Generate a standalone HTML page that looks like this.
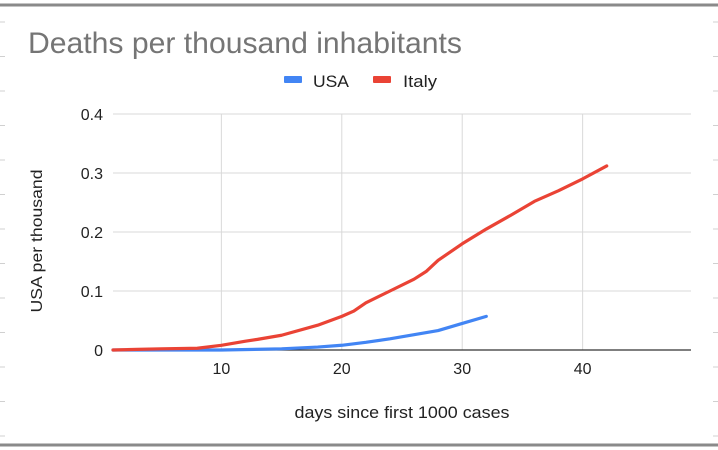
<!DOCTYPE html>
<html><head><meta charset="utf-8"><style>
html,body{margin:0;padding:0;background:#fff;}
svg{display:block;font-family:"Liberation Sans",Arial,sans-serif;}
</style></head><body>
<svg id="chart" width="718" height="450" viewBox="0 0 718 450">
<rect x="0" y="0" width="718" height="450" fill="#fff"/>
<line x1="0" y1="5" x2="718" y2="5" stroke="#8a8a8a" stroke-width="3"/>
<line x1="0" y1="445" x2="718" y2="445" stroke="#8a8a8a" stroke-width="3"/>
<g id="edges" stroke="#d0d0d0" stroke-width="1"></g>
<text x="28" y="53" font-size="30" fill="#757575" textLength="434" lengthAdjust="spacingAndGlyphs">Deaths per thousand inhabitants</text>
<g>
<rect x="284" y="76" width="18" height="7" rx="1" fill="#4285f4"/>
<text x="313" y="87" font-size="17" fill="#222" textLength="36" lengthAdjust="spacingAndGlyphs">USA</text>
<rect x="373" y="76" width="18" height="7" rx="1" fill="#ea4335"/>
<text x="403" y="87" font-size="17" fill="#222" textLength="34" lengthAdjust="spacingAndGlyphs">Italy</text>
</g>
<g id="grid"></g>
<g id="series"></g>
<text transform="translate(42,241) rotate(-90)" text-anchor="middle" font-size="16" fill="#222" textLength="143" lengthAdjust="spacingAndGlyphs">USA per thousand</text>
<text x="402" y="418" text-anchor="middle" font-size="17" fill="#222" textLength="215" lengthAdjust="spacingAndGlyphs">days since first 1000 cases</text>
</svg>
<script>
const yTicks=[0,0.1,0.2,0.3,0.4];
const yTickLabels=["0","0.1","0.2","0.3","0.4"];
const xTicks=[10,20,30,40];
const xTickLabels=["10","20","30","40"];
const italyDays=[1,3,5,8,10,12,13,15,18,20,21,22,24,26,27,28,30,32,34,36,38,40,42];
const italyValues=[0,0.001,0.002,0.003,0.008,0.015,0.018,0.025,0.042,0.057,0.066,0.08,0.1,0.12,0.133,0.152,0.18,0.205,0.228,0.252,0.27,0.29,0.312];
const usaDays=[1,5,10,15,18,20,22,24,26,28,30,32];
const usaValues=[0,0,0,0.002,0.005,0.008,0.013,0.019,0.026,0.033,0.045,0.057];
const NS="http://www.w3.org/2000/svg";
const X0=113,X1=691,Y0=350,Y1=114,xMin=1,xMax=49,yMax=0.4;
const xs=d=>X0+(d-xMin)/(xMax-xMin)*(X1-X0);
const ys=v=>Y0-v/yMax*(Y0-Y1);
function mk(tag,attrs,parent){const e=document.createElementNS(NS,tag);for(const k in attrs)e.setAttribute(k,attrs[k]);parent.appendChild(e);return e;}
const edges=document.getElementById('edges');
for(let y=22;y<440;y+=34.5){
 const a=mk('line',{x1:0,x2:5,y1:y,y2:y},edges);
 
 
 const b=mk('line',{x1:713,x2:718,y1:y,y2:y},edges);
 
 
}
const grid=document.getElementById('grid');
yTicks.forEach((v,i)=>{
 if(v>0){const l=mk('line',{x1:X0,x2:X1,y1:ys(v),y2:ys(v),stroke:'#d9d9d9','stroke-width':1},grid);
 
 }
 const t=mk('text',{x:103,y:ys(v)+6,'text-anchor':'end','font-size':16,fill:'#222'},grid);
 t.textContent=yTickLabels[i];
 
 
});
xTicks.forEach((d,i)=>{
 const l=mk('line',{x1:xs(d),x2:xs(d),y1:Y1,y2:Y0,stroke:'#d9d9d9','stroke-width':1},grid);
 
 
 const t=mk('text',{x:xs(d),y:374,'text-anchor':'middle','font-size':16,fill:'#222'},grid);
 t.textContent=xTickLabels[i];
 
 
});
const base=mk('line',{x1:X0,x2:X1,y1:Y0,y2:Y0,stroke:'#333','stroke-width':1.2},grid);


const ser=document.getElementById('series');
function line(days,vals,color,name){
 const p=mk('polyline',{points:days.map((d,i)=>xs(d)+','+ys(vals[i])).join(' '),fill:'none',stroke:color,'stroke-width':3.2,'stroke-linejoin':'round','stroke-linecap':'round'},ser);
 
 
}
line(usaDays,usaValues,'#4285f4','usa-line');
line(italyDays,italyValues,'#ea4335','italy-line');
</script>
</body></html>
